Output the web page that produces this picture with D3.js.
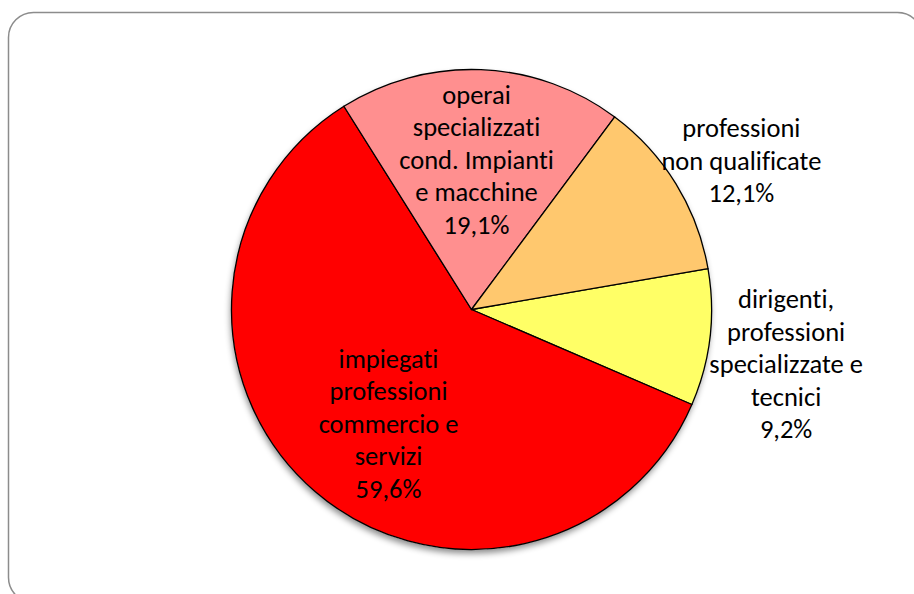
<!DOCTYPE html>
<html>
<head>
<meta charset="utf-8">
<script src="https://cdn.jsdelivr.net/npm/d3@7"></script>
<style>
	html, body { margin: 0; padding: 0; background: #fff; }
	svg { display: block; }
	text { font-family: Carlito, Calibri, Lato, sans-serif; fill: #000; font-variant-ligatures: none; }
</style>
</head>
<body>
<svg id="chart"></svg>
<script>
const w = 914;
const h = 594;

// categories in drawing order, clockwise from the first slice
const categories = [
	['dirigenti,', 'professioni', 'specializzate e', 'tecnici'],
	['impiegati', 'professioni', 'commercio e', 'servizi'],
	['operai', 'specializzati', 'cond. Impianti', 'e macchine'],
	['professioni', 'non qualificate']
];
const values = [9.2, 59.6, 19.1, 12.1];
const percentLabels = ['9,2%', '59,6%', '19,1%', '12,1%'];
const colors = ['#FFFF66', '#FF0000', '#FF8F8F', '#FFC86E'];
const inside = [false, true, true, false];

const cx = 471.5;
const cy = 309.5;
const radius = 240;
const startDeg = 80.2;
const lineH = 32.5;

const svg = d3.select('#chart')
	.attr('width', w)
	.attr('height', h);

const defs = svg.append('defs');
defs.append('filter')
	.attr('id', 'shadow')
	.attr('x', '-20%').attr('y', '-20%')
	.attr('width', '140%').attr('height', '140%')
	.append('feDropShadow')
	.attr('dx', -1)
	.attr('dy', 4)
	.attr('stdDeviation', 3)
	.attr('flood-color', '#000')
	.attr('flood-opacity', 0.45);

// outer frame
svg.append('rect')
	.attr('x', 8.5)
	.attr('y', 12.5)
	.attr('width', 914)
	.attr('height', 590)
	.attr('rx', 25)
	.attr('fill', '#fff')
	.attr('stroke', '#8c8c8c')
	.attr('stroke-width', 1.5);

const data = values.map((v, i) => ({
	value: v,
	lines: categories[i].concat([percentLabels[i]]),
	color: colors[i],
	inside: inside[i]
}));

const startA = startDeg * Math.PI / 180;
const pie = d3.pie()
	.sort(null)
	.value(d => d.value)
	.startAngle(startA)
	.endAngle(startA + 2 * Math.PI);

const arc = d3.arc()
	.innerRadius(0)
	.outerRadius(radius);

const g = svg.append('g')
	.attr('transform', `translate(${cx},${cy})`);

const arcs = pie(data);

// shadow under the whole pie
g.append('circle')
	.attr('r', radius)
	.attr('fill', '#fff')
	.attr('filter', 'url(#shadow)');

g.selectAll('path.slice')
	.data(arcs)
	.enter()
	.append('path')
	.attr('class', 'slice')
	.attr('d', arc)
	.attr('fill', d => d.data.color)
	.attr('stroke', '#000')
	.attr('stroke-width', 1.3)
	.attr('stroke-linejoin', 'round');

const inArc = d3.arc().innerRadius(radius * 0.625).outerRadius(radius * 0.625);
const outArc = d3.arc().innerRadius(radius * 1.32).outerRadius(radius * 1.32);

const labels = g.selectAll('text.lab')
	.data(arcs)
	.enter()
	.append('text')
	.attr('class', 'lab')
	.attr('text-anchor', 'middle')
	.style('font-size', '26.5px')
	.attr('transform', d => {
		if (d.data.inside) {
			const c = inArc.centroid(d);
			return `translate(${c[0] * 0.85},${c[1]})`;
		}
		const c = outArc.centroid(d);
		return `translate(${c[0]},${c[1] + 17})`;
	});

labels.each(function(d) {
	const n = d.data.lines.length;
	d3.select(this).selectAll('tspan')
		.data(d.data.lines)
		.enter()
		.append('tspan')
		.attr('x', 0)
		.attr('y', (t, i) => (i - (n - 1) / 2) * lineH)
		.attr('dy', '0.35em')
		.text(t => t);
});
</script>
</body>
</html>
